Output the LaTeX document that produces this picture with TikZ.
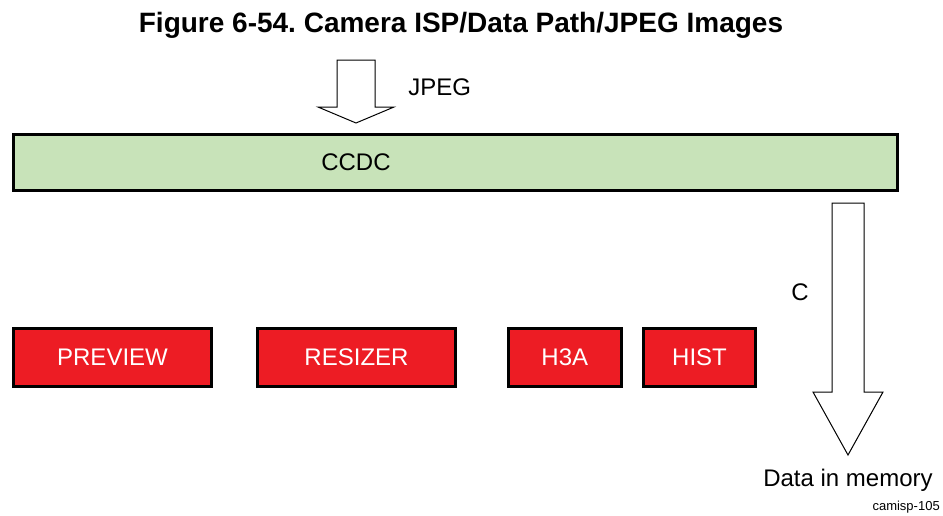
\documentclass[tikz,border=0pt]{standalone}
\usepackage{fontspec}
\setmainfont{Liberation Sans}
\usetikzlibrary{positioning}
\definecolor{ccdcgreen}{HTML}{C8E3B9}
\definecolor{ispred}{HTML}{ED1C24}
\frenchspacing

\begin{document}
\begin{tikzpicture}[
    x=0.75pt, y=-0.75pt,
    every node/.style={font=\fontsize{18}{21}\selectfont, inner sep=0pt},
    greenbox/.style={draw, line width=2.25pt, fill=ccdcgreen, minimum height=42pt},
    redbox/.style={draw, line width=2.25pt, fill=ispred, text=white, minimum height=44pt},
    blockarrow/.style={draw, line width=0.75pt, fill=white, line join=miter}
]
\useasboundingbox (0,0) rectangle (943,515);
\node (title) at (461,25) {\fontsize{21}{25}\selectfont\bfseries Figure 6-54. Camera ISP/Data Path/JPEG Images};

% input arrow
\draw[blockarrow] (337,60) -- (375,60) -- (375,107) -- (394,107) -- (356,123)
    -- (318,107) -- (337,107) -- cycle;
\node[anchor=west] (jpeg) at (408,87) {JPEG};

\node[greenbox, minimum width=663pt] (ccdc) at (455,162) {};
\node (ccdctext) at (356,162) {CCDC};

% processing blocks
\node[redbox, minimum width=149pt] (preview) at (112.5,357.5) {PREVIEW};
\node[redbox, minimum width=148pt, right=32.25pt of preview] (resizer) {RESIZER};
\node[redbox, minimum width=85pt, right=37.5pt of resizer] (h3a) {H3A};
\node[redbox, minimum width=84pt, right=14.25pt of h3a] (hist) {HIST};

% output arrow
\draw[blockarrow] (832,203) -- (864,203) -- (864,392) -- (883,392) -- (848,455)
    -- (813,392) -- (832,392) -- cycle;
\node (c) at (800,292) {C};
\node (memory) at (848,480) {Data in memory};
\node[anchor=east, font=\fontsize{9.75}{11}\selectfont] (figid) at (940,507) {camisp-105};
\end{tikzpicture}
\end{document}
